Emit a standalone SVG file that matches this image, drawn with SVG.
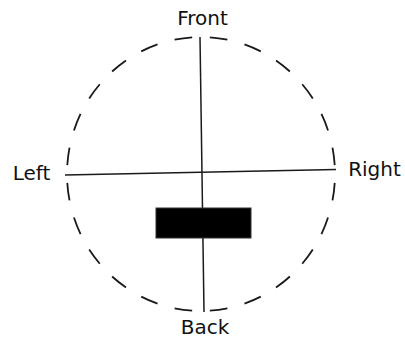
<svg xmlns="http://www.w3.org/2000/svg" width="405" height="339" viewBox="0 0 405 339">
<style>
.lbl{font-family:"DejaVu Sans","Verdana",sans-serif;font-size:20px;fill:#111;text-anchor:middle}
.ax{stroke:#1a1a1a;stroke-width:1.5;fill:none}
.ring{stroke:#1a1a1a;stroke-width:1.8;fill:none;stroke-dasharray:15 15;stroke-dashoffset:22.5}
</style>
<rect width="405" height="339" fill="#fff"/>
<g id="circle">
<ellipse class="ring" cx="201" cy="174" rx="134" ry="137" pathLength="720"/>
</g>
<g id="connectors">
<line class="ax" x1="200" y1="37" x2="204" y2="312"/>
<line class="ax" x1="65" y1="175" x2="336" y2="169.5"/>
</g>
<g id="block">
<rect x="156" y="208" width="95" height="30" fill="#000" stroke="#333" stroke-width="1"/>
</g>
<g id="front"><text class="lbl" x="202.5" y="25">Front</text></g>
<g id="left"><text class="lbl" x="31.5" y="180">Left</text></g>
<g id="right"><text class="lbl" x="374.5" y="176">Right</text></g>
<g id="back"><text class="lbl" x="205" y="334">Back</text></g>
</svg>
